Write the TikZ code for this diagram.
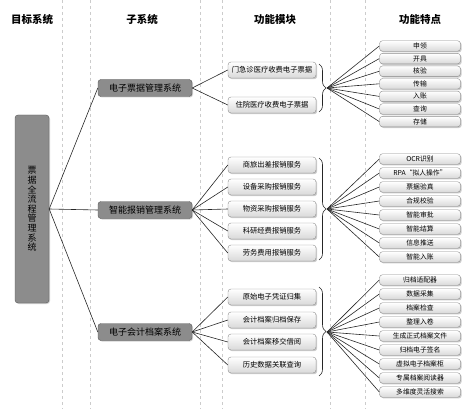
\documentclass[tikz,border=0pt]{standalone}
\usepackage{fontspec}
\setmainfont{Noto Sans CJK SC}
\usetikzlibrary{shadows,decorations.pathreplacing}

\begin{document}
\begin{tikzpicture}[x=1pt,y=-1pt,
    every node/.style={inner sep=0pt,anchor=center},
    colhead/.style={font=\fontsize{10.5}{12}\selectfont\bfseries},
    sysbox/.style={draw=black!65,fill=black!45,rounded corners=3pt,
      minimum width=94pt,minimum height=17pt,font=\fontsize{9}{10}\selectfont,
      drop shadow={shadow xshift=1pt,shadow yshift=-1pt,fill=black!35}},
    modbox/.style={draw=black!45,top color=white,bottom color=black!15,rounded corners=3pt,
      minimum width=88pt,minimum height=16pt,font=\fontsize{7.3}{8}\selectfont,
      drop shadow={shadow xshift=1.2pt,shadow yshift=-1.2pt,fill=black!40}},
    featbox/.style={modbox,minimum width=81pt,minimum height=10.5pt,
      font=\fontsize{6.8}{7}\selectfont},
    sepline/.style={draw=black!20,dashed,line width=0.4pt},
    link/.style={draw=black!85,line width=0.6pt},
    bracket/.style={draw=black!85,line width=0.6pt,decorate,decoration={brace,amplitude=7pt}}]
  \useasboundingbox (0,0) rectangle (474,409);

  % column guides
  \foreach \x in {62,90,200,222,330,365}
    \draw[sepline] (\x,0) -- (\x,409);

  % headings
  \node[colhead] (hTgt) at (32,20) {目标系统};
  \node[colhead] (hSys) at (142,20) {子系统};
  \node[colhead] (hMod) at (275,20) {功能模块};
  \node[colhead] (hFeat) at (420,20) {功能特点};

  % target system
  \node[sysbox,minimum width=34pt,minimum height=188pt,align=center,
    font=\fontsize{9}{9.6}\selectfont] (tgt) at (32,209)
    {票\\据\\全\\流\\程\\管\\理\\系\\统};

  % sub systems
  \node[sysbox] (sysA) at (145,88) {电子票据管理系统};
  \node[sysbox] (sysB) at (145,210) {智能报销管理系统};
  \node[sysbox] (sysC) at (145,332) {电子会计档案系统};

  \draw[link] (tgt.east) -- (sysA.west);
  \draw[link] (tgt.east) -- (sysB.west);
  \draw[link] (tgt.east) -- (sysC.west);

  % function modules
  \node[modbox] (modA1) at (272,70) {门急诊医疗收费电子票据};
  \node[modbox] (modA2) at (272,105) {住院医疗收费电子票据};

  \node[modbox] (modB1) at (272,165) {商旅出差报销服务};
  \node[modbox] (modB2) at (272,187) {设备采购报销服务};
  \node[modbox] (modB3) at (272,209) {物资采购报销服务};
  \node[modbox] (modB4) at (272,231) {科研经费报销服务};
  \node[modbox] (modB5) at (272,253) {劳务费用报销服务};

  \node[modbox] (modC1) at (272,297) {原始电子凭证归集};
  \node[modbox] (modC2) at (272,320) {会计档案归档保存};
  \node[modbox] (modC3) at (272,342) {会计档案移交借阅};
  \node[modbox] (modC4) at (272,365) {历史数据关联查询};

  \foreach \i in {1,2}
    \draw[link] (sysA.east) -- (modA\i.west);
  \foreach \i in {1,...,5}
    \draw[link] (sysB.east) -- (modB\i.west);
  \foreach \i in {1,...,4}
    \draw[link] (sysC.east) -- (modC\i.west);

  % brackets
  \draw[bracket] (319,64) -- (319,112);
  \draw[bracket] (319,158) -- (319,260);
  \draw[bracket] (319,287) -- (319,376);
  \coordinate (fanA) at (327,88);
  \coordinate (fanB) at (327,209);
  \coordinate (fanC) at (327,332);

  % features
  \foreach \t [count=\i] in {申领,开具,核验,传输,入账,查询,存储}
    \node[featbox] (featA\i) at (420,{33.4+12.6*\i}) {\t};
  \foreach \t [count=\i] in {OCR识别,RPA“拟人操作”,票据验真,合规校验,智能审批,智能结算,信息推送,智能入账}
    \node[featbox] (featB\i) at (420,{145+14*\i}) {\t};
  \foreach \t [count=\i] in {归档适配器,数据采集,档案检查,整理入卷,生成正式档案文件,归档电子签名,虚拟电子档案柜,专属档案阅读器,多维度灵活搜索}
    \node[featbox] (featC\i) at (420,{266+14*\i}) {\t};

  \foreach \i in {1,...,7}
    \draw[link] (fanA) -- (featA\i.west);
  \foreach \i in {1,...,8}
    \draw[link] (fanB) -- (featB\i.west);
  \foreach \i in {1,...,9}
    \draw[link] (fanC) -- (featC\i.west);
\end{tikzpicture}
\end{document}
